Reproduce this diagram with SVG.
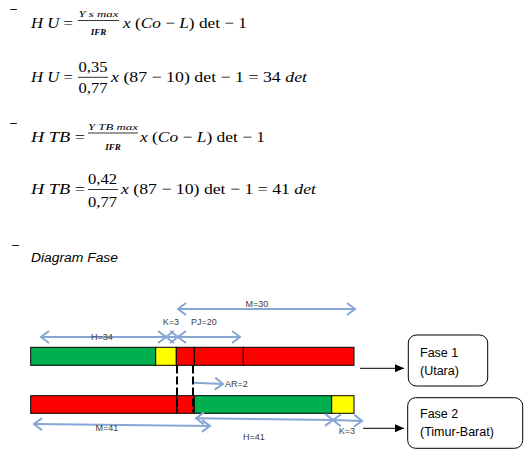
<svg xmlns="http://www.w3.org/2000/svg" width="530" height="455" viewBox="0 0 530 455">
<style>
.m{font-family:"Liberation Serif","DejaVu Serif",serif;font-size:15px;fill:#000}
.i{font-style:italic}
.s{font-family:"Liberation Serif","DejaVu Serif",serif;font-size:9px;font-style:italic;fill:#000}
.bar{stroke:#000;stroke-width:0.8}
.lbl{font-family:"Liberation Sans","DejaVu Sans",sans-serif;font-size:9px;fill:#404040}
.blue{stroke:#86a6d6;stroke-width:2;fill:none}
.box{fill:#fff;stroke:#000;stroke-width:1}
.bt{font-family:"Liberation Sans","DejaVu Sans",sans-serif;font-size:12.5px;fill:#000}
.g{fill:#00b050;stroke:#000;stroke-width:1}
.y{fill:#ffff00;stroke:#000;stroke-width:1}
.r{fill:#ff0000;stroke:#000;stroke-width:1}
</style>
<defs>
<marker id="oh" markerWidth="11" markerHeight="14" refX="9" refY="7" orient="auto-start-reverse" markerUnits="userSpaceOnUse">
<path d="M1,1 L9,7 L1,13" fill="none" stroke="#86a6d6" stroke-width="2"/>
</marker>
<marker id="bh" markerWidth="10" markerHeight="8" refX="9" refY="4" orient="auto" markerUnits="userSpaceOnUse">
<path d="M0,0 L9,4 L0,8 Z" fill="#000"/>
</marker>
</defs>
<g id="formulas">
<text x="10" y="13" class="bt" font-size="12">–</text>
<text x="31" y="28" class="m" textLength="42" lengthAdjust="spacingAndGlyphs"><tspan class="i">H U</tspan> =</text>
<text x="98.5" y="16.5" class="s" text-anchor="middle" textLength="40" lengthAdjust="spacingAndGlyphs">Y s max</text>
<line x1="78" y1="20.5" x2="119" y2="20.5" class="bar"/>
<text x="98.5" y="35" class="s" font-size="8" font-weight="bold" text-anchor="middle">IFR</text>
<text x="123" y="28" class="m" textLength="124" lengthAdjust="spacingAndGlyphs"><tspan class="i">x</tspan> (<tspan class="i">Co</tspan> − <tspan class="i">L</tspan>) det − 1</text>

<text x="31" y="82" class="m" textLength="42" lengthAdjust="spacingAndGlyphs"><tspan class="i">H U</tspan> =</text>
<text x="93" y="72" class="m" text-anchor="middle" textLength="29" lengthAdjust="spacingAndGlyphs">0,35</text>
<line x1="78" y1="77.3" x2="108" y2="77.3" class="bar"/>
<text x="93" y="93" class="m" text-anchor="middle" textLength="29" lengthAdjust="spacingAndGlyphs">0,77</text>
<text x="111" y="82" class="m" textLength="196" lengthAdjust="spacingAndGlyphs"><tspan class="i">x</tspan> (87 − 10) det − 1 = 34 <tspan class="i">det</tspan></text>

<text x="10" y="127" class="bt" font-size="12">–</text>
<text x="31" y="142" class="m" textLength="54" lengthAdjust="spacingAndGlyphs"><tspan class="i">H TB</tspan> =</text>
<text x="113" y="130" class="s" text-anchor="middle" textLength="50" lengthAdjust="spacingAndGlyphs">Y TB max</text>
<line x1="88" y1="133" x2="138" y2="133" class="bar"/>
<text x="113" y="150" class="s" font-size="8" font-weight="bold" text-anchor="middle">IFR</text>
<text x="140" y="142" class="m" textLength="125" lengthAdjust="spacingAndGlyphs"><tspan class="i">x</tspan> (<tspan class="i">Co</tspan> − <tspan class="i">L</tspan>) det − 1</text>

<text x="31" y="194" class="m" textLength="54" lengthAdjust="spacingAndGlyphs"><tspan class="i">H TB</tspan> =</text>
<text x="102.5" y="184" class="m" text-anchor="middle" textLength="29" lengthAdjust="spacingAndGlyphs">0,42</text>
<line x1="88" y1="189.5" x2="118" y2="189.5" class="bar"/>
<text x="102.5" y="207" class="m" text-anchor="middle" textLength="29" lengthAdjust="spacingAndGlyphs">0,77</text>
<text x="121" y="194" class="m" textLength="195" lengthAdjust="spacingAndGlyphs"><tspan class="i">x</tspan> (87 − 10) det − 1 = 41 <tspan class="i">det</tspan></text>

<text x="12" y="249" class="bt" font-size="12">–</text>
<text x="31" y="262" class="bt" font-size="13" font-style="italic" textLength="87" lengthAdjust="spacingAndGlyphs">Diagram Fase</text>
</g>
<g id="bar1">
<rect x="30.7" y="347.3" width="125" height="18" class="g"/>
<rect x="155.7" y="347.3" width="20.6" height="18" class="y"/>
<rect x="176.3" y="347.3" width="18" height="18" class="r"/>
<rect x="194.3" y="347.3" width="49" height="18" class="r"/>
<rect x="243.3" y="347.3" width="110.7" height="18" class="r"/>
</g>
<g id="bar2">
<rect x="30.7" y="395.7" width="146" height="17.6" class="r"/>
<rect x="176.7" y="395.7" width="17.6" height="17.6" class="r"/>
<rect x="194.3" y="395.7" width="137.4" height="17.6" class="g"/>
<rect x="331.7" y="395.7" width="22.3" height="17.6" class="y"/>
</g>
<g id="fase1">
<rect x="408.3" y="335" width="79.4" height="51" rx="8" class="box"/>
<text x="420" y="356.5" class="bt">Fase 1</text>
<text x="420" y="374.5" class="bt">(Utara)</text>
</g>
<g id="fase2">
<rect x="407.7" y="397.7" width="115" height="50.6" rx="8" class="box"/>
<text x="420" y="418" class="bt">Fase 2</text>
<text x="420" y="436" class="bt">(Timur-Barat)</text>
</g>
<g id="connectors">
<line x1="177" y1="365.5" x2="177" y2="412" stroke="#000" stroke-width="2" stroke-dasharray="8 3"/>
<line x1="193" y1="365.5" x2="193" y2="412" stroke="#000" stroke-width="2" stroke-dasharray="8 3"/>
<line x1="178" y1="309" x2="355" y2="309" class="blue" marker-start="url(#oh)" marker-end="url(#oh)"/>
<line x1="41" y1="337" x2="166" y2="337" class="blue" marker-start="url(#oh)" marker-end="url(#oh)"/>
<line x1="166" y1="337" x2="178" y2="337" class="blue" marker-start="url(#oh)" marker-end="url(#oh)"/>
<line x1="178" y1="337" x2="240" y2="337" class="blue" marker-start="url(#oh)" marker-end="url(#oh)"/>
<line x1="194" y1="382.7" x2="223" y2="384" class="blue" marker-end="url(#oh)"/>
<line x1="34" y1="424" x2="210" y2="426" class="blue" marker-start="url(#oh)" marker-end="url(#oh)"/>
<line x1="196" y1="418.3" x2="333" y2="420" class="blue" marker-start="url(#oh)" marker-end="url(#oh)"/>
<line x1="333" y1="420" x2="362" y2="421" class="blue" marker-start="url(#oh)" marker-end="url(#oh)"/>
<line x1="360" y1="368.3" x2="404" y2="368.3" stroke="#000" stroke-width="1" marker-end="url(#bh)"/>
<line x1="363" y1="428.3" x2="404" y2="428.3" stroke="#000" stroke-width="1" marker-end="url(#bh)"/>
<text x="257" y="307" class="lbl" text-anchor="middle">M=30</text>
<text x="171" y="325" class="lbl" text-anchor="middle">K=3</text>
<text x="204" y="325" class="lbl" text-anchor="middle">PJ=20</text>
<text x="102" y="340" class="lbl" text-anchor="middle">H=34</text>
<text x="225" y="386.5" class="lbl">AR=2</text>
<text x="107" y="430.5" class="lbl" text-anchor="middle">M=41</text>
<text x="254" y="439.5" class="lbl" text-anchor="middle">H=41</text>
<text x="347" y="434" class="lbl" text-anchor="middle">K=3</text>
</g>
</svg>
